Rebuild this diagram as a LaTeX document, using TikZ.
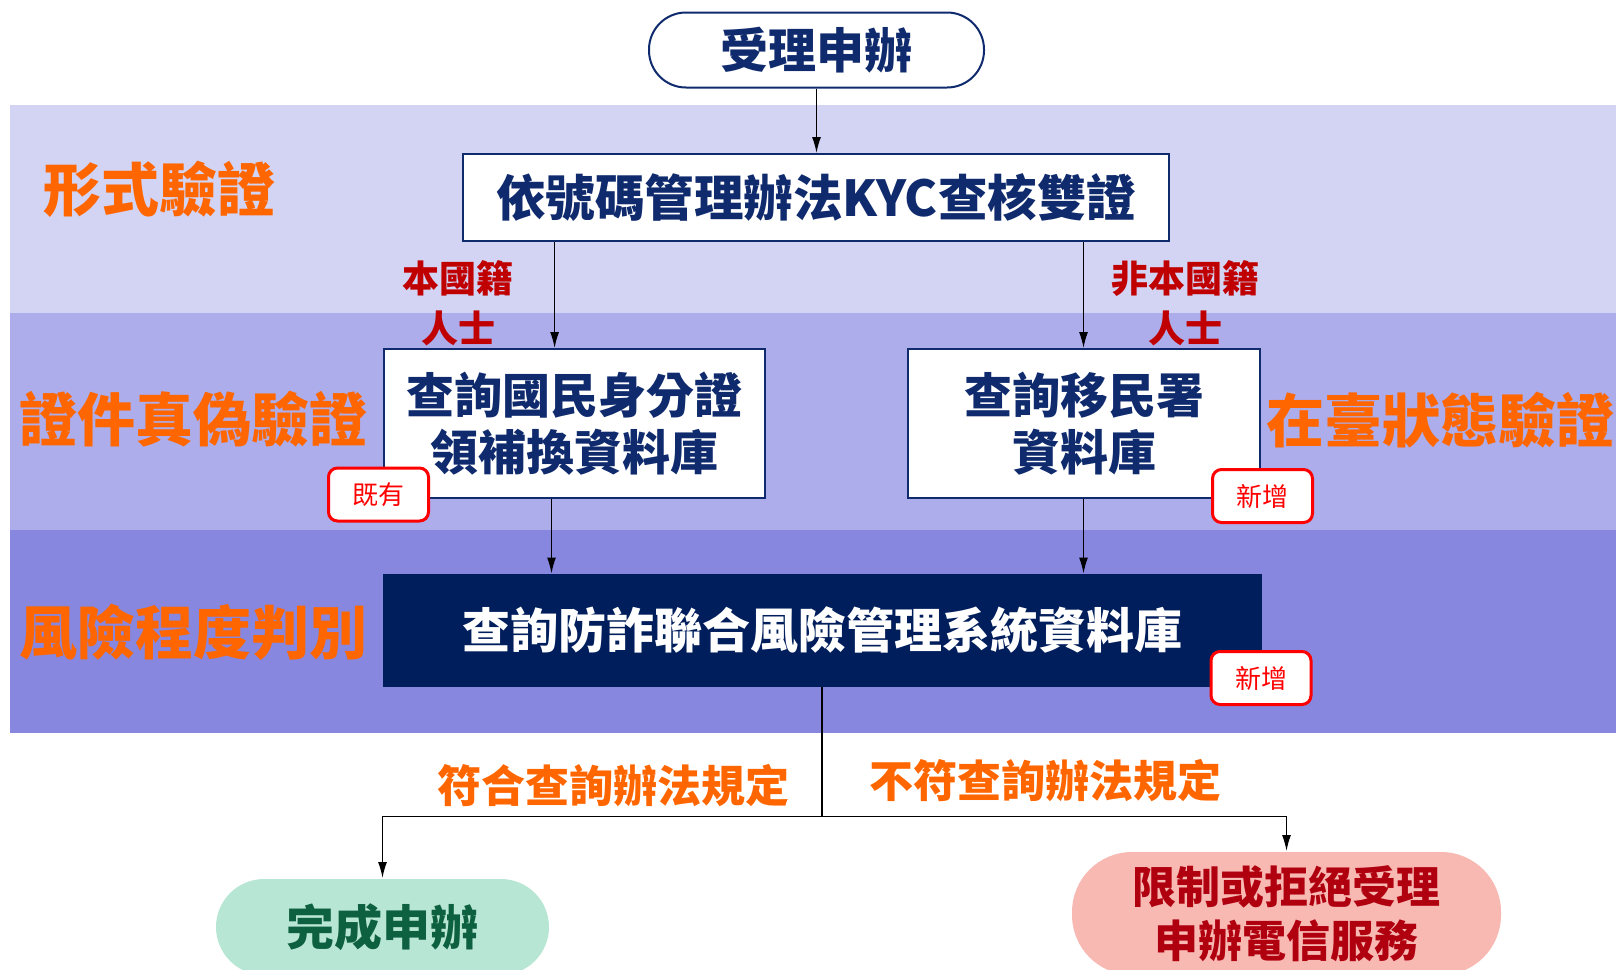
\documentclass[tikz,border=0pt]{standalone}
\usepackage{fontspec}
\setmainfont{Noto Sans CJK TC}
\usetikzlibrary{arrows.meta}
\definecolor{bandA}{HTML}{D3D3F3}
\definecolor{bandB}{HTML}{ADADEB}
\definecolor{bandC}{HTML}{8787DF}
\definecolor{navy}{HTML}{0F2B6E}
\definecolor{darknavy}{HTML}{011E5C}
\definecolor{lanecol}{HTML}{FF6600}
\definecolor{labred}{HTML}{C00000}
\definecolor{badgered}{HTML}{FF0000}
\definecolor{donefill}{HTML}{B8E6D4}
\definecolor{donetext}{HTML}{0D6040}
\definecolor{failfill}{HTML}{F8B9B3}
\definecolor{failtext}{HTML}{B00010}
\begin{document}
\begin{tikzpicture}[x=1pt,y=-1pt,
  box/.style={draw=navy, line width=2pt, fill=white, text=navy, inner sep=0pt, align=center,
    font=\bfseries\fontsize{48}{57}\selectfont},
  badge/.style={draw=badgered, line width=3pt, fill=white, rounded corners=9pt, text=badgered,
    minimum width=100pt, minimum height=53pt, inner sep=0pt, font=\fontsize{26}{30}\selectfont},
  lane/.style={text=lanecol, inner sep=0pt, font=\bfseries\fontsize{58}{60}\selectfont},
  nat/.style={text=labred, inner sep=0pt, align=center, font=\bfseries\fontsize{37}{50}\selectfont},
  cond/.style={text=lanecol, inner sep=0pt, font=\bfseries\fontsize{44}{50}\selectfont},
  arr/.style={-{Latex[length=16pt,width=9pt]}, line width=1.4pt},
  link/.style={line width=1.6pt}]
\useasboundingbox (0,0) rectangle (1616,969);
% bands
\fill[bandA] (10,105) rectangle (1616,313);
\fill[bandB] (10,313) rectangle (1616,530);
\fill[bandC] (10,530) rectangle (1616,733);
% lane labels
\node[lane] (l1) at (159,189) {形式驗證};
\node[lane] (l2) at (193,419) {證件真偽驗證};
\node[lane, anchor=west] (l3) at (1266,420) {在臺狀態驗證};
\node[lane] (l4) at (193,632) {風險程度判別};
% nodes
\node[box, rounded corners=37pt, minimum width=335pt, minimum height=75pt] (start) at (816.5,50) {受理申辦};
\node[box, minimum width=706pt, minimum height=87pt, font=\bfseries\fontsize{49.5}{57}\selectfont] (kyc) at (816,197.5) {依號碼管理辦法KYC查核雙證};
\node[box, minimum width=381pt, minimum height=149pt] (idb) at (574,423.5) {查詢國民身分證\\領補換資料庫};
\node[box, minimum width=352pt, minimum height=149pt] (imm) at (1084,423.5) {查詢移民署\\資料庫};
\node[box, fill=darknavy, draw=darknavy, text=white, minimum width=877pt, minimum height=111pt] (risk) at (822,630) {查詢防詐聯合風險管理系統資料庫};
\node[box, draw=none, fill=donefill, text=donetext, rounded corners=48pt, minimum width=333pt, minimum height=96pt] (done) at (382.5,927) {完成申辦};
\node[box, draw=none, fill=failfill, text=failtext, rounded corners=60pt, minimum width=429pt, minimum height=123pt,
  font=\bfseries\fontsize{44}{54}\selectfont] (fail) at (1286.5,913.5) {限制或拒絕受理\\申辦電信服務};
% badges
\node[badge] (b1) at (378.5,494.5) {既有};
\node[badge] (b2) at (1262.5,496) {新增};
\node[badge] (b3) at (1261,678) {新增};
% nationality labels
\node[nat] (n1) at (458,303) {本國籍\\人士};
\node[nat] (n2) at (1185,303) {非本國籍\\人士};
% condition labels
\node[cond] (c1) at (613,786) {符合查詢辦法規定};
\node[cond] (c2) at (1045.5,780.5) {不符查詢辦法規定};
% connectors
\coordinate (xa) at (554.6,0);
\coordinate (xb) at (1083.5,0);
\coordinate (xc) at (551.5,0);
\coordinate (split) at (0,816.7);
\draw[arr] (start.south) -- (start.south |- kyc.north);
\draw[arr] (kyc.south -| xa) -- (idb.north -| xa);
\draw[arr] (kyc.south -| xb) -- (imm.north -| xb);
\draw[arr] (idb.south -| xc) -- (risk.north -| xc);
\draw[arr] (imm.south -| xb) -- (risk.north -| xb);
\draw[arr] (risk.south) -- (risk.south |- split) -| (done.north);
\draw[arr] (risk.south |- split) -| (fail.north);
\end{tikzpicture}
\end{document}
